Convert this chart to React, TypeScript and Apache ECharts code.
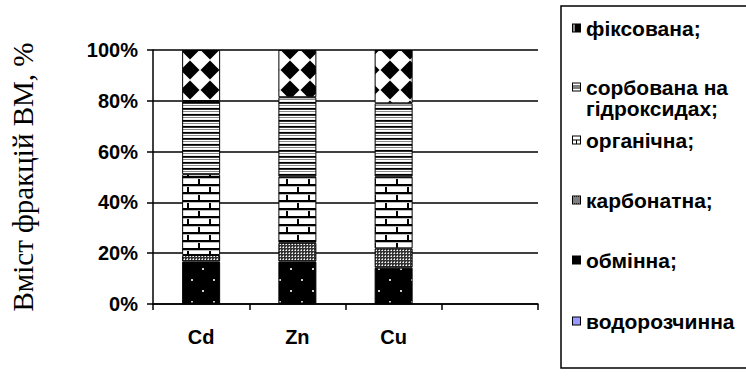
import React, { useEffect, useRef } from "react";
import * as echarts from "echarts";

const categories = ["Cd", "Zn", "Cu", ""];
const yTicks = [0, 20, 40, 60, 80, 100];

const waterSoluble = [0.2, 0.2, 0.2, null];
const exchangeable = [16.5, 16.5, 14.1, null];
const carbonate = [2.6, 7.4, 7.6, null];
const organic = [31.8, 26.0, 28.2, null];
const sorbed = [28.8, 31.3, 28.9, null];
const fixedFr = [20.1, 18.6, 21.0, null];

const names = {
  water: "водорозчинна",
  exch: "обмінна;",
  carb: "карбонатна;",
  org: "органічна;",
  sorb: "сорбована на гідроксидах;",
  fix: "фіксована;",
};

const yAxisTitle = "Вміст фракцій ВМ, %";

function tile(w: number, h: number, draw: (c: CanvasRenderingContext2D) => void) {
  const cv = document.createElement("canvas");
  cv.width = w;
  cv.height = h;
  const ctx = cv.getContext("2d")!;
  draw(ctx);
  return cv.toDataURL("image/png");
}

function pat(w: number, h: number, draw: (c: CanvasRenderingContext2D) => void) {
  return { image: tile(w, h, draw), repeat: "repeat", imageWidth: w, imageHeight: h } as any;
}

export default function App() {
  const ref = useRef<HTMLDivElement>(null);
  useEffect(() => {
    if (!ref.current) return;
    const chart = echarts.init(ref.current, null, { renderer: "svg" });

    const exchPat = pat(22, 22, (c) => {
      c.fillStyle = "#000";
      c.fillRect(0, 0, 22, 22);
      c.fillStyle = "#ccc";
      c.fillRect(4, 4, 2, 2);
      c.fillRect(15, 15, 2, 2);
    });
    const carbPat = pat(3, 3, (c) => {
      c.fillStyle = "#333";
      c.fillRect(0, 0, 3, 3);
      c.fillStyle = "#fff";
      c.fillRect(1, 1, 1, 1);
      c.fillStyle = "#aaa";
      c.fillRect(0, 1, 1, 1);
      c.fillRect(1, 0, 1, 1);
    });
    const orgPat = pat(22, 16, (c) => {
      c.fillStyle = "#fff";
      c.fillRect(0, 0, 22, 16);
      c.fillStyle = "#000";
      c.fillRect(0, 0, 22, 2);
      c.fillRect(0, 8, 22, 2);
      c.fillRect(0, 0, 2, 8);
      c.fillRect(11, 8, 2, 8);
      c.fillStyle = "#bbb";
      c.fillRect(0, 2, 22, 1);
      c.fillRect(0, 10, 22, 1);
    });
    const sorbPat = pat(4, 6, (c) => {
      const rows = ["#000", "#333", "#fff", "#888", "#fff", "#eee"];
      rows.forEach((col, i) => {
        c.fillStyle = col;
        c.fillRect(0, i, 4, 1);
      });
    });
    const fixPat = pat(20, 20, (c) => {
      c.fillStyle = "#fff";
      c.fillRect(0, 0, 20, 20);
      c.fillStyle = "#000";
      c.beginPath();
      c.moveTo(10, 0.5);
      c.lineTo(19.5, 10);
      c.lineTo(10, 19.5);
      c.lineTo(0.5, 10);
      c.closePath();
      c.fill();
    });

    const icon = (draw: (c: CanvasRenderingContext2D) => void) => "image://" + tile(9, 9, draw);
    const border = (c: CanvasRenderingContext2D) => {
      c.strokeStyle = "#000";
      c.lineWidth = 1;
      c.strokeRect(0.5, 0.5, 8, 8);
    };
    const icons: Record<string, string> = {
      fix: icon((c) => {
        c.fillStyle = "#000";
        c.fillRect(0, 0, 9, 9);
        c.fillStyle = "#888";
        c.fillRect(1, 1, 2, 7);
      }),
      sorb: icon((c) => {
        c.fillStyle = "#fff";
        c.fillRect(0, 0, 9, 9);
        c.fillStyle = "#000";
        c.fillRect(0, 3, 9, 1);
        c.fillRect(0, 5, 9, 1);
        border(c);
      }),
      org: icon((c) => {
        c.fillStyle = "#fff";
        c.fillRect(0, 0, 9, 9);
        c.fillStyle = "#000";
        c.fillRect(0, 4, 9, 1);
        c.fillRect(4, 4, 1, 5);
        border(c);
      }),
      carb: icon((c) => {
        for (let y = 0; y < 9; y++)
          for (let x = 0; x < 9; x++) {
            c.fillStyle = (x + y) % 2 ? "#333" : "#ccc";
            c.fillRect(x, y, 1, 1);
          }
        border(c);
      }),
      exch: icon((c) => {
        c.fillStyle = "#000";
        c.fillRect(0, 0, 9, 9);
      }),
      water: icon((c) => {
        c.fillStyle = "#9999ff";
        c.fillRect(0, 0, 9, 9);
        border(c);
      }),
    };

    const font = "'Liberation Sans', Arial, sans-serif";
    const legendRows: [keyof typeof names, number, string][] = [
      ["fix", 28, names.fix],
      ["sorb", 87, "сорбована на"],
      ["org", 140, names.org],
      ["carb", 200, names.carb],
      ["exch", 260, names.exch],
      ["water", 321, names.water],
    ];

    const mk = (key: keyof typeof names, data: (number | null)[], color: any) => ({
      name: names[key],
      type: "bar",
      stack: "total",
      barWidth: 38,
      data,
      itemStyle: { color, borderColor: "#000", borderWidth: 1 },
    });

    chart.setOption({
      animation: false,
      backgroundColor: "#fff",
      grid: { left: 152, right: 208, top: 50, bottom: 73, containLabel: false },
      legend: legendRows.map(([key, cy, label]) => ({
        show: true,
        left: 572,
        top: cy - 12,
        padding: 0,
        itemWidth: 9,
        itemHeight: 9,
        selectedMode: false,
        data: [{ name: names[key], icon: icons[key] }],
        formatter: () => label,
        textStyle: { fontFamily: font, fontSize: 21, fontWeight: "bold", color: "#000", lineHeight: 24 },
      })),
      graphic: [
        {
          type: "rect",
          shape: { x: 561, y: 6, width: 220, height: 362 },
          style: { fill: "none", stroke: "#000", lineWidth: 1.5 },
          silent: true,
        },
        {
          type: "text",
          x: 586,
          y: 108,
          style: {
            text: "гідроксидах;",
            fontFamily: font,
            fontSize: 21,
            fontWeight: "bold",
            fill: "#000",
            verticalAlign: "middle",
          },
          silent: true,
        },
      ],
      xAxis: {
        type: "category",
        data: categories,
        axisLine: { lineStyle: { color: "#000", width: 1.5 } },
        axisTick: { show: true, length: 6, lineStyle: { color: "#000", width: 1.5 } },
        axisLabel: { fontFamily: font, fontSize: 20, fontWeight: "bold", color: "#000", margin: 23 },
      },
      yAxis: {
        type: "value",
        min: yTicks[0],
        max: yTicks[yTicks.length - 1],
        interval: 20,
        name: yAxisTitle,
        nameLocation: "middle",
        nameRotate: 90,
        nameGap: 116,
        nameTextStyle: { fontFamily: "'Liberation Serif', 'Times New Roman', serif", fontSize: 29, color: "#000" },
        axisLine: { show: true, lineStyle: { color: "#000", width: 1.5 } },
        axisTick: { show: true, length: 6, lineStyle: { color: "#000", width: 1.5 } },
        axisLabel: { fontFamily: font, fontSize: 20, fontWeight: "bold", color: "#000", margin: 15, formatter: "{value}%" },
        splitLine: { show: true, lineStyle: { color: "#000", width: 1.5 } },
      },
      series: [
        mk("water", waterSoluble, "#9999ff"),
        mk("exch", exchangeable, exchPat),
        mk("carb", carbonate, carbPat),
        mk("org", organic, orgPat),
        mk("sorb", sorbed, sorbPat),
        mk("fix", fixedFr, fixPat),
      ],
    });
    return () => chart.dispose();
  }, []);
  return <div ref={ref} style={{ position: "fixed", left: 0, top: 0, width: 746, height: 377 }} />;
}
